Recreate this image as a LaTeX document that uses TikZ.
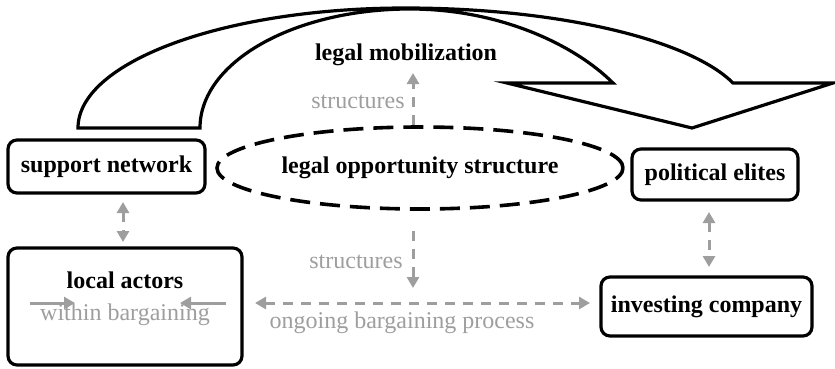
\documentclass[tikz,border=0pt]{standalone}
\usepackage{fontspec}
\setmainfont{Liberation Serif}
\usepackage{tikz}
\usetikzlibrary{shapes.geometric,arrows.meta}
\definecolor{midgray}{RGB}{158,158,158}
\tikzset{
  actor/.style = {draw, line width=3.2pt, rounded corners=9pt, inner sep=0pt,
    font=\fontsize{24}{28}\selectfont\bfseries},
  greytext/.style = {text=midgray, font=\fontsize{24}{28}\selectfont},
  link/.style = {draw=midgray, line width=3pt, dash pattern=on 10pt off 8pt,
    {Triangle[length=11pt,width=12pt]}-{Triangle[length=11pt,width=12pt]}},
  uplink/.style = {draw=midgray, line width=3pt, dash pattern=on 10pt off 8pt,
    -{Triangle[length=11pt,width=12pt]}},
}
\begin{document}
\begin{tikzpicture}[x=1pt, y=-1pt]
\useasboundingbox (0,0) rectangle (835,368);
% Curved arrow on top
\draw[line width=3.2pt, line join=miter, fill=white]
  (78,128) -- (200,128)
  .. controls (200,62) and (294,9) .. (410,9)
  .. controls (500,9) and (575,45) .. (613,83)
  -- (507,83) -- (692,128) -- (833,83) -- (733,83)
  .. controls (690,40) and (560,8) .. (405,8)
  .. controls (224,8) and (78,62) .. (78,128) -- cycle;
% Actors
\node[actor, minimum width=197pt, minimum height=53pt] (support) at (106.5,166.5) {support network};
\node[actor, minimum width=166pt, minimum height=51pt] (elites) at (715,174.5) {political elites};
\node[actor, minimum width=234pt, minimum height=117pt] (local) at (125,306.5) {};
\node[actor, draw=none, fill=none] (locallbl) at (125,280) {local actors};
\node[actor, minimum width=211pt, minimum height=59pt] (invest) at (706.5,306.5) {investing company};
% Legal opportunity structure
\node[ellipse, draw, line width=3.6pt, dash pattern=on 20pt off 10pt,
  minimum width=406pt, minimum height=82pt, inner sep=0pt,
  font=\fontsize{24}{28}\selectfont\bfseries] (opp) at (420,168) {legal opportunity structure};
\node[font=\fontsize{24}{28}\selectfont\bfseries] (mob) at (406,55) {legal mobilization};
% Structures
\coordinate (uptip) at (413,73);
\coordinate (dntip) at (413,288);
\draw[uplink] (opp.north -| uptip) -- (uptip);
\draw[uplink] (opp.south -| dntip) ++(0,20) -- (dntip);
\node[greytext] (struct1) at (358,102) {structures};
\node[greytext] (struct2) at (356,262) {structures};
% Bargaining
\coordinate (bargl) at (255,303);
\coordinate (bargr) at (590,303);
\draw[link] (bargl) -- (bargr);
\node[greytext] (barg) at (402,323) {ongoing bargaining process};
\node[greytext] (within) at (125,315) {within bargaining};
\draw[midgray, line width=3pt, -{Triangle[length=11pt,width=12pt]}] (30,303) -- (75,303);
\draw[midgray, line width=3pt, -{Triangle[length=11pt,width=12pt]}] (226,303) -- (180,303);
% Links between actors
\coordinate (sl1) at (123,202);
\coordinate (sl2) at (123,242);
\draw[link] (sl1) -- (sl2);
\coordinate (ei1) at (709,212);
\coordinate (ei2) at (709,267);
\draw[link] (ei1) -- (ei2);
\end{tikzpicture}
\end{document}
